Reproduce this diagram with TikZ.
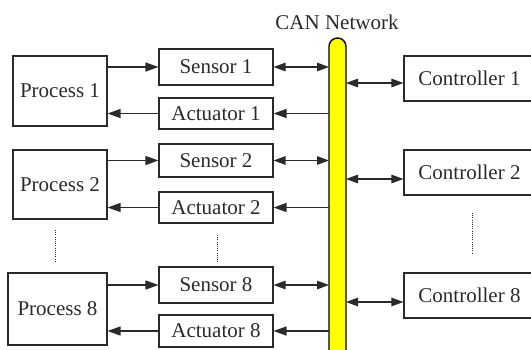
\documentclass[tikz,border=0pt]{standalone}
\usepackage{fontspec}
\setmainfont{Liberation Serif}
\usetikzlibrary{arrows.meta}
\definecolor{ink}{HTML}{2A2A2A}
\definecolor{busfill}{HTML}{FFFF00}
\begin{document}
\begin{tikzpicture}[x=1pt,y=-1pt,
  box/.style={draw=ink, line width=1.1pt, text=ink, inner sep=0pt,
    font=\rmfamily\fontsize{21}{25}\selectfont},
  proc/.style={box, minimum width=94pt, minimum height=70pt},
  dev/.style={box, minimum width=114pt},
  ctrl/.style={box, minimum width=131pt, minimum height=45pt},
  link/.style={draw=ink, line width=1.4pt,
    arrows={-Triangle[length=13pt,width=9pt]}},
  duplex/.style={draw=ink, line width=1.3pt,
    arrows={Triangle[length=12pt,width=8.5pt]-Triangle[length=12pt,width=8.5pt]}},
  gap/.style={draw=ink, line width=0.9pt, dash pattern=on 1pt off 1.2pt}]
\useasboundingbox (0,0) rectangle (531,349);
\clip (0,0) rectangle (531,349);

% CAN bus
\coordinate (busL) at (329,0);
\coordinate (busR) at (346,0);
\draw[draw=black, fill=busfill, line width=1.4pt]
  (329,352) -- (329,46.5) arc[start angle=180, end angle=0, radius=8.5pt] -- (346,352) -- cycle;
\node[text=ink, font=\rmfamily\fontsize{21}{25}\selectfont] (can) at (337,22) {CAN Network};

% processes
\node[proc] (p1) at (60,91) {Process 1};
\node[proc, minimum height=69pt] (p2) at (60,184.5) {Process 2};
\node[proc, minimum width=99pt, minimum height=72pt] (p8) at (57.5,309) {Process 8};

% sensors and actuators
\node[dev, minimum height=36pt] (s1) at (216,67) {Sensor 1};
\node[dev, minimum height=31pt] (a1) at (216,113.5) {Actuator 1};
\node[dev, minimum height=33pt] (s2) at (216,160.5) {Sensor 2};
\node[dev, minimum height=31pt] (a2) at (216,207.5) {Actuator 2};
\node[dev, minimum height=36pt] (s8) at (216,285) {Sensor 8};
\node[dev, minimum height=32pt] (a8) at (216,331) {Actuator 8};

% controllers
\node[ctrl] (c1) at (469.5,78.5) {Controller 1};
\node[ctrl] (c2) at (469.5,172.5) {Controller 2};
\node[ctrl] (c8) at (469.5,295.5) {Controller 8};

% process <-> sensor / actuator
\draw[link] (p1.east |- s1.west) -- (s1.west);
\draw[link] (a1.west) -- (a1.west -| p1.east);
\draw[link] (p2.east |- s2.west) -- (s2.west);
\draw[link] (a2.west) -- (a2.west -| p2.east);
\draw[link] (p8.east |- s8.west) -- (s8.west);
\draw[link] (a8.west) -- (a8.west -| p8.east);

% sensor / actuator <-> bus
\draw[duplex] (s1.east) -- (s1.east -| busL);
\draw[link] (a1.east -| busL) -- (a1.east);
\draw[duplex] (s2.east) -- (s2.east -| busL);
\draw[link] (a2.east -| busL) -- (a2.east);
\draw[duplex] (s8.east) -- (s8.east -| busL);
\draw[link] (a8.east -| busL) -- (a8.east);

% bus <-> controllers
\draw[duplex] ([yshift=-4.5pt]c1.west -| busR) -- ([yshift=-4.5pt]c1.west);
\draw[duplex] ([yshift=-6.5pt]c2.west -| busR) -- ([yshift=-6.5pt]c2.west);
\draw[duplex] ([yshift=-6.5pt]c8.west -| busR) -- ([yshift=-6.5pt]c8.west);

% omitted units 3..7
\coordinate (gp1) at (55,230);   \coordinate (gp2) at (55,262);
\coordinate (gs1) at (217,235);  \coordinate (gs2) at (217,262);
\coordinate (gc1) at (472,213);  \coordinate (gc2) at (472,254);
\draw[gap] (gp1) -- (gp2);
\draw[gap] (gs1) -- (gs2);
\draw[gap] (gc1) -- (gc2);
\end{tikzpicture}
\end{document}
